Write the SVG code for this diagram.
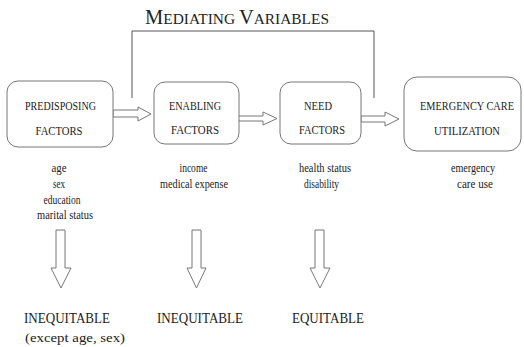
<svg xmlns="http://www.w3.org/2000/svg" width="524" height="347" viewBox="0 0 524 347">
<style>
.box{fill:#fff;stroke:#777;stroke-width:1}
.blk{fill:#fff;stroke:#777;stroke-width:1;stroke-linejoin:miter}
.ln{fill:none;stroke:#555;stroke-width:1}
text{font-family:"Liberation Serif","Times New Roman",serif;fill:#222}
.bt{font-size:12.5px;text-anchor:middle}
.sm{font-size:12.5px;text-anchor:middle}
.big{font-size:15px}
</style>
<rect width="524" height="347" fill="#fff"/>
<g id="title">
<text x="145" y="24" textLength="184" lengthAdjust="spacingAndGlyphs"><tspan font-size="20">M</tspan><tspan font-size="15">EDIATING </tspan><tspan font-size="20">V</tspan><tspan font-size="15">ARIABLES</tspan></text>
</g>
<g id="connectors">
<polyline class="ln" points="132,98 132,31 374,31 374,98"/>
<polygon class="blk" points="113,110 138,110 138,107 151,114 138,121 138,117 113,117"/>
<polygon class="blk" points="238,116 263,116 263,112 277,118.5 263,125 263,121 238,121"/>
<polygon class="blk" points="361,116 385,116 385,112 399,119 385,126 385,122 361,122"/>
<polygon class="blk" points="56,230 65,230 65,268 71,268 61,288 51,268 56,268"/>
<polygon class="blk" points="192,230 201,230 201,268 206,268 196.5,288 187,268 192,268"/>
<polygon class="blk" points="315,230 324,230 324,268 330,268 320,288 310,268 315,268"/>
</g>
<g id="predisposing">
<rect class="box" x="7" y="81" width="106" height="66" rx="11"/>
<text class="bt" x="60.5" y="110" textLength="71" lengthAdjust="spacingAndGlyphs">PREDISPOSING</text>
<text class="bt" x="59" y="135" textLength="47" lengthAdjust="spacingAndGlyphs">FACTORS</text>
<text class="sm" x="59" y="172" textLength="15" lengthAdjust="spacingAndGlyphs">age</text>
<text class="sm" x="59" y="188" textLength="12" lengthAdjust="spacingAndGlyphs">sex</text>
<text class="sm" x="62" y="204" textLength="37" lengthAdjust="spacingAndGlyphs">education</text>
<text class="sm" x="65" y="219" textLength="56" lengthAdjust="spacingAndGlyphs">marital status</text>
</g>
<g id="enabling">
<rect class="box" x="154" y="82" width="85" height="62" rx="11"/>
<text class="bt" x="195" y="110" textLength="52" lengthAdjust="spacingAndGlyphs">ENABLING</text>
<text class="bt" x="195" y="134" textLength="48" lengthAdjust="spacingAndGlyphs">FACTORS</text>
<text class="sm" x="193.5" y="172" textLength="28" lengthAdjust="spacingAndGlyphs">income</text>
<text class="sm" x="194" y="188" textLength="68" lengthAdjust="spacingAndGlyphs">medical expense</text>
</g>
<g id="need">
<rect class="box" x="280" y="82" width="81" height="62" rx="11"/>
<text class="bt" x="318" y="110" textLength="28" lengthAdjust="spacingAndGlyphs">NEED</text>
<text class="bt" x="322" y="134" textLength="46" lengthAdjust="spacingAndGlyphs">FACTORS</text>
<text class="sm" x="325" y="172" textLength="52" lengthAdjust="spacingAndGlyphs">health status</text>
<text class="sm" x="321.5" y="188" textLength="35" lengthAdjust="spacingAndGlyphs">disability</text>
</g>
<g id="emergency">
<rect class="box" x="404" y="77" width="117" height="74" rx="13"/>
<text x="467" y="110" font-size="11.5" text-anchor="middle" textLength="94" lengthAdjust="spacingAndGlyphs">EMERGENCY CARE</text>
<text class="bt" x="467" y="135" textLength="66" lengthAdjust="spacingAndGlyphs">UTILIZATION</text>
<text class="sm" x="473" y="172" textLength="44" lengthAdjust="spacingAndGlyphs">emergency</text>
<text class="sm" x="475" y="188" textLength="36" lengthAdjust="spacingAndGlyphs">care use</text>
</g>
<g id="outcomes">
<text class="big" x="24" y="323" textLength="86" lengthAdjust="spacingAndGlyphs">INEQUITABLE</text>
<text x="25" y="342" font-size="13.5" textLength="100" lengthAdjust="spacingAndGlyphs">(except age, sex)</text>
<text class="big" x="157" y="323" textLength="86" lengthAdjust="spacingAndGlyphs">INEQUITABLE</text>
<text class="big" x="292" y="323" textLength="72" lengthAdjust="spacingAndGlyphs">EQUITABLE</text>
</g>
</svg>
